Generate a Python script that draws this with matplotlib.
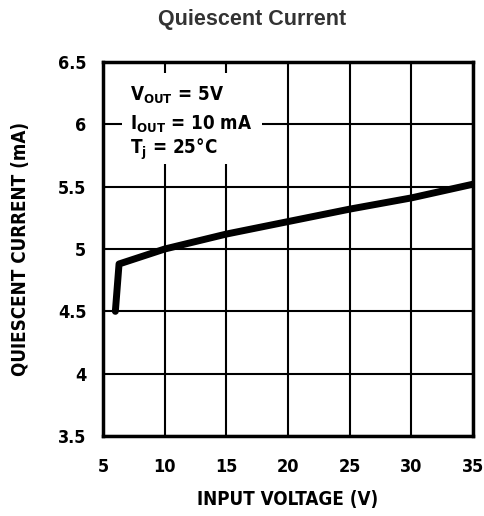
import matplotlib
matplotlib.use("Agg")
import matplotlib.pyplot as plt
from matplotlib.patches import Rectangle

plt.rcParams['font.family'] = ['DejaVu Sans']
plt.rcParams['font.stretch'] = 'condensed'
plt.rcParams['mathtext.fontset'] = 'custom'
plt.rcParams['mathtext.rm'] = 'DejaVu Sans:bold'
plt.rcParams['mathtext.bf'] = 'DejaVu Sans:bold'

vin = [6.0, 6.3, 10, 15, 20, 25, 30, 35]
iq = [4.5, 4.88, 5.0, 5.12, 5.22, 5.32, 5.41, 5.52]
xticks = [5, 10, 15, 20, 25, 30, 35]
yticks = [3.5, 4, 4.5, 5, 5.5, 6, 6.5]
ytick_labels = ['3.5', '4', '4.5', '5', '5.5', '6', '6.5']

fig = plt.figure(figsize=(4.85, 5.16), dpi=100)
ax = fig.add_axes([0.2124, 0.155, 0.7629, 0.7248])
ax.set_xlim(5, 35)
ax.set_ylim(3.5, 6.5)
ax.set_xticks(xticks)
ax.set_yticks(yticks)
ax.set_yticklabels(ytick_labels)
ax.grid(True, color='black', linewidth=1.5)
ax.tick_params(axis='y', length=0, labelsize=13, pad=12)
ax.tick_params(axis='x', length=0, labelsize=13, pad=16)
for lab in ax.get_xticklabels() + ax.get_yticklabels():
    lab.set_fontweight('bold')
    lab.set_fontstretch('condensed')
for s in ax.spines.values():
    s.set_linewidth(2.5)
ax.add_patch(Rectangle((6.55, 5.68), 11.3, 0.73, facecolor='white', edgecolor='none', zorder=2.5))
ax.plot(vin, iq, color='black', linewidth=5, solid_capstyle='round', solid_joinstyle='round', zorder=3)

kw = dict(fontsize=13.5, fontweight='bold', fontstretch='condensed', va='center', zorder=4)
ax.text(7.2, 6.23, r'V$_{\mathbf{OUT}}$ = 5V', **kw)
ax.text(7.2, 6.0, r'I$_{\mathbf{OUT}}$ = 10 mA', **kw)
ax.text(7.2, 5.8, r'T$_{\mathbf{j}}$ = 25°C', **kw)

ax.set_xlabel('INPUT VOLTAGE (V)', fontsize=13.5, fontweight='bold', fontstretch='condensed', labelpad=10)
ax.set_ylabel('QUIESCENT CURRENT (mA)', fontsize=13.5, fontweight='bold', fontstretch='condensed', labelpad=20)
fig.text(0.52, 0.963, 'Quiescent Current', ha='center', va='center', fontsize=15.5, fontweight='bold',
         family=['Liberation Sans', 'DejaVu Sans'], color='#333333')
fig.savefig('out.png', dpi=100)
